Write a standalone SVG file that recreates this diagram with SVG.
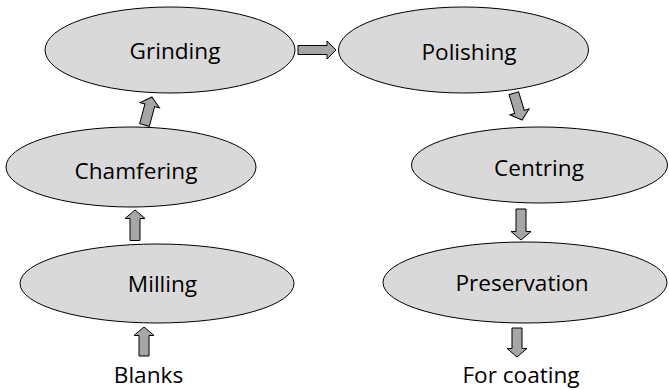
<svg xmlns="http://www.w3.org/2000/svg" width="669" height="390" viewBox="0 0 669 390">
  <style>
    .node ellipse { fill: #d9d9d9; stroke: #000; stroke-width: 1; }
    .label { font-family: "Open Sans", "Liberation Sans", sans-serif; font-size: 22.6px; fill: #000; text-anchor: middle; }
    .arrow { fill: #a6a6a6; stroke: #000; stroke-width: 1; stroke-linejoin: miter; }
  </style>
  <rect width="669" height="390" fill="#fff"/>

  <g id="grinding" class="node">
    <ellipse cx="170" cy="50" rx="125" ry="43"/>
    <text class="label" x="175" y="59">Grinding</text>
  </g>
  <g id="polishing" class="node">
    <ellipse cx="463.5" cy="50" rx="125" ry="43"/>
    <text class="label" x="469" y="60">Polishing</text>
  </g>
  <g id="chamfering" class="node">
    <ellipse cx="131" cy="167" rx="125" ry="40"/>
    <text class="label" x="136" y="179">Chamfering</text>
  </g>
  <g id="milling" class="node">
    <ellipse cx="157" cy="283.5" rx="137" ry="39.5"/>
    <text class="label" x="162.5" y="292">Milling</text>
  </g>
  <g id="centring" class="node">
    <ellipse cx="539.5" cy="165" rx="128" ry="38"/>
    <text class="label" x="539" y="176">Centring</text>
  </g>
  <g id="preservation" class="node">
    <ellipse cx="525" cy="282.5" rx="142" ry="40.5"/>
    <text class="label" x="522" y="291">Preservation</text>
  </g>
  <g id="blanks">
    <text class="label" x="148.5" y="383">Blanks</text>
  </g>
  <g id="for-coating">
    <text class="label" x="521" y="383">For coating</text>
  </g>

  <g id="connectors">
    <!-- Blanks to Milling -->
    <path class="arrow" transform="translate(144,327)" d="M0,0 L10,8.5 L5,8.5 L5,29 L-5,29 L-5,8.5 L-10,8.5 Z"/>
    <!-- Milling to Chamfering -->
    <path class="arrow" transform="translate(135,210)" d="M0,0 L10,8.5 L5,8.5 L5,30.5 L-5,30.5 L-5,8.5 L-10,8.5 Z"/>
    <!-- Chamfering to Grinding -->
    <path class="arrow" transform="translate(152,97) rotate(15)" d="M0,0 L10,8.5 L5,8.5 L5,29 L-5,29 L-5,8.5 L-10,8.5 Z"/>
    <!-- Grinding to Polishing -->
    <path class="arrow" d="M336,50 L327,41 L327,45.5 L298,45.5 L298,54.5 L327,54.5 L327,59 Z"/>
    <!-- Polishing to Centring -->
    <path class="arrow" transform="translate(522,120) rotate(163)" d="M0,0 L10,8.5 L5,8.5 L5,28 L-5,28 L-5,8.5 L-10,8.5 Z"/>
    <!-- Centring to Preservation -->
    <path class="arrow" transform="translate(521,240) rotate(180)" d="M0,0 L10,8.5 L5,8.5 L5,31 L-5,31 L-5,8.5 L-10,8.5 Z"/>
    <!-- Preservation to coating -->
    <path class="arrow" transform="translate(517,357) rotate(180)" d="M0,0 L10,8.5 L5,8.5 L5,29 L-5,29 L-5,8.5 L-10,8.5 Z"/>
  </g>
</svg>
